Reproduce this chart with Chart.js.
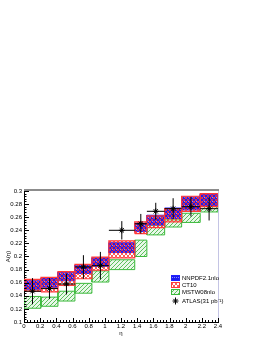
<!DOCTYPE html>
<html>
<head>
<meta charset="utf-8">
<script src="https://cdn.jsdelivr.net/npm/chart.js@4.4.1/dist/chart.umd.min.js"></script>
<style>
  html, body { margin: 0; padding: 0; background: #fff; }
  #chart { display: block; }
</style>
</head>
<body>
<canvas id="chart" width="262" height="339"></canvas>
<script>
// eta bins (ATLAS W charge asymmetry binning)
const binEdges = [0, 0.21, 0.42, 0.63, 0.84, 1.05, 1.37, 1.52, 1.74, 1.95, 2.18, 2.4];

// prediction bands, low / high edge per bin
const nnpdfLo = [0.150, 0.153, 0.163, 0.174, 0.185, 0.206, 0.238, 0.248, 0.258, 0.271, 0.278];
const nnpdfHi = [0.163, 0.167, 0.176, 0.187, 0.198, 0.221, 0.251, 0.263, 0.274, 0.291, 0.295];
const ct10Lo  = [0.147, 0.146, 0.156, 0.166, 0.179, 0.198, 0.235, 0.244, 0.253, 0.269, 0.276];
const ct10Hi  = [0.165, 0.168, 0.177, 0.188, 0.199, 0.224, 0.253, 0.262, 0.273, 0.292, 0.296];
const mstwLo  = [0.121, 0.124, 0.132, 0.144, 0.161, 0.180, 0.200, 0.233, 0.245, 0.252, 0.268];
const mstwHi  = [0.139, 0.138, 0.147, 0.159, 0.178, 0.195, 0.225, 0.248, 0.256, 0.266, 0.279];

// ATLAS data
const atlasEta = [0.105, 0.315, 0.525, 0.735, 0.945, 1.21, 1.445, 1.63, 1.845, 2.065, 2.29];
const atlasA   = [0.147, 0.151, 0.158, 0.184, 0.186, 0.240, 0.250, 0.269, 0.273, 0.276, 0.273];
const atlasErr = [0.020, 0.016, 0.016, 0.018, 0.021, 0.014, 0.015, 0.013, 0.016, 0.015, 0.018];

// axis ticks
const xTickValues = [0, 0.2, 0.4, 0.6, 0.8, 1, 1.2, 1.4, 1.6, 1.8, 2, 2.2, 2.4];
const xTickLabels = ['0', '0.2', '0.4', '0.6', '0.8', '1', '1.2', '1.4', '1.6', '1.8', '2', '2.2', '2.4'];
const yTickValues = [0.1, 0.12, 0.14, 0.16, 0.18, 0.2, 0.22, 0.24, 0.26, 0.28, 0.3];
const yTickLabels = ['0.1', '0.12', '0.14', '0.16', '0.18', '0.2', '0.22', '0.24', '0.26', '0.28', '0.3'];

const FONT = '"Liberation Sans", Arial, Helvetica, sans-serif';

// small hatch patterns, ROOT-ish
function makePattern(bg, ink, pixels) {
  const c = document.createElement('canvas');
  c.width = 4; c.height = 4;
  const g = c.getContext('2d');
  if (bg) { g.fillStyle = bg; g.fillRect(0, 0, 4, 4); }
  g.fillStyle = ink;
  pixels.forEach(p => g.fillRect(p[0], p[1], 1, 1));
  return g.createPattern(c, 'repeat');
}
const diagA = [[0, 0], [1, 1], [2, 2], [3, 3]];
const diagB = [[3, 0], [2, 1], [1, 2], [0, 3]];
const nnpdfFill = makePattern('#1c1cf0', '#8c8cff', [[0, 1], [2, 1]]);
const ct10Fill = makePattern(null, 'rgba(255,50,50,0.8)', diagA.concat(diagB));
const mstwFill = makePattern('#e8f7e8', '#5cc05c', diagB);

// one closed rectangle per bin, separated by gaps
function bandShape(lo, hi) {
  const pts = [];
  lo.forEach((v, i) => {
    const x0 = binEdges[i], x1 = binEdges[i + 1];
    pts.push({x: x0, y: v}, {x: x1, y: v}, {x: x1, y: hi[i]}, {x: x0, y: hi[i]}, {x: x0, y: v});
    pts.push({x: x0, y: null});
  });
  return pts;
}

function errorBars() {
  const pts = [];
  atlasA.forEach((a, i) => {
    pts.push({x: atlasEta[i], y: a - atlasErr[i]}, {x: atlasEta[i], y: a + atlasErr[i]}, {x: atlasEta[i], y: null});
    pts.push({x: binEdges[i], y: a}, {x: binEdges[i + 1], y: a}, {x: binEdges[i], y: null});
  });
  return pts;
}

// ROOT style inward ticks
const innerTicks = {
  id: 'innerTicks',
  afterDraw(chart) {
    const {ctx, chartArea: a, scales: {x, y}} = chart;
    ctx.save();
    ctx.strokeStyle = '#000';
    ctx.lineWidth = 1;
    ctx.beginPath();
    for (let v = 0.1; v <= 0.3001; v += 0.004) {
      const major = Math.abs(v * 50 - Math.round(v * 50)) < 1e-6;
      const py = Math.round(y.getPixelForValue(v)) + 0.5;
      ctx.moveTo(a.left, py);
      ctx.lineTo(a.left + (major ? 5 : 2.5), py);
    }
    for (let v = 0; v <= 2.4001; v += 0.04) {
      const major = Math.abs(v * 5 - Math.round(v * 5)) < 1e-6;
      const px = Math.round(x.getPixelForValue(v)) + 0.5;
      ctx.moveTo(px, a.bottom);
      ctx.lineTo(px, a.bottom - (major ? 4 : 2));
    }
    ctx.stroke();
    ctx.restore();
  }
};

// grey frame on top and right
const frame = {
  id: 'frame',
  beforeDatasetsDraw(chart) {
    const {ctx, chartArea: a} = chart;
    ctx.save();
    ctx.strokeStyle = '#8c8c8c';
    ctx.lineWidth = 2;
    ctx.beginPath();
    ctx.moveTo(a.left, a.top - 1);
    ctx.lineTo(a.right + 1, a.top - 1);
    ctx.stroke();
    ctx.strokeStyle = '#c4c4e4';
    ctx.lineWidth = 1;
    ctx.beginPath();
    ctx.moveTo(a.right + 0.5, a.top);
    ctx.lineTo(a.right + 0.5, a.bottom);
    ctx.stroke();
    ctx.restore();
  }
};

// legend box inside the pad
const rootLegend = {
  id: 'rootLegend',
  afterDraw(chart) {
    const ctx = chart.ctx;
    const bx = 171, top = 278, rowH = 7;
    ctx.save();
    ctx.font = '6px ' + FONT;
    ctx.textBaseline = 'middle';
    let row = 0;
    chart.data.datasets.forEach(ds => {
      if (!ds.legendText) return;
      const cy = top + row * rowH + (ds.legendMarker ? 2 : 0);
      if (ds.legendMarker) {
        ctx.strokeStyle = '#000';
        ctx.beginPath();
        ctx.moveTo(bx + 4.5, cy - 3.5);
        ctx.lineTo(bx + 4.5, cy + 3.5);
        ctx.stroke();
        Chart.helpers.drawPoint(ctx, {pointStyle: 'star', radius: 3, borderWidth: 1}, bx + 4.5, cy);
      } else {
        ctx.fillStyle = ds.backgroundColor;
        ctx.fillRect(bx, cy - 2.5, 8, 5);
        ctx.strokeStyle = ds.borderColor;
        ctx.lineWidth = 1;
        ctx.strokeRect(bx + 0.5, cy - 2.5, 8, 5);
      }
      ctx.fillStyle = '#000';
      ctx.fillText(ds.legendText, bx + 11, cy);
      row++;
    });
    ctx.restore();
  }
};

new Chart(document.getElementById('chart'), {
  type: 'line',
  data: {
    datasets: [
      {
        legendText: 'NNPDF2.1nlo',
        data: bandShape(nnpdfLo, nnpdfHi),
        borderColor: '#2020ff', borderWidth: 1, backgroundColor: nnpdfFill,
        fill: 'shape', pointRadius: 0, order: 3
      },
      {
        legendText: 'CT10',
        data: bandShape(ct10Lo, ct10Hi),
        borderColor: '#ff3a3a', borderWidth: 1.2, backgroundColor: ct10Fill,
        fill: 'shape', pointRadius: 0, order: 2
      },
      {
        legendText: 'MSTW08nlo',
        data: bandShape(mstwLo, mstwHi),
        borderColor: '#3cba3c', borderWidth: 1, backgroundColor: mstwFill,
        fill: 'shape', pointRadius: 0, order: 4
      },
      {
        data: errorBars(),
        borderColor: '#000', borderWidth: 1, fill: false, pointRadius: 0, order: 1
      },
      {
        legendText: 'ATLAS(31 pb⁻¹)', legendMarker: true,
        data: atlasEta.map((x, i) => ({x: x, y: atlasA[i]})),
        showLine: false, pointStyle: 'star', pointRadius: 3,
        borderColor: '#000', borderWidth: 1, order: 0
      }
    ]
  },
  options: {
    responsive: false,
    animation: false,
    events: [],
    layout: { padding: { top: 191, right: 44, left: 0, bottom: 0 } },
    plugins: { legend: { display: false }, tooltip: { enabled: false } },
    scales: {
      x: {
        type: 'linear', min: 0, max: 2.4,
        afterFit(s) { s.height = 17; },
        afterBuildTicks(s) { s.ticks = xTickValues.map(v => ({value: v})); },
        grid: { display: false, drawTicks: false },
        border: { color: '#000', width: 1 },
        ticks: {
          autoSkip: false, maxRotation: 0, padding: 1, color: '#000',
          font: { family: FONT, size: 6 },
          callback: (v, i) => xTickLabels[i]
        },
        title: { display: true, text: 'η', color: '#000', font: { family: FONT, size: 6 }, padding: { top: 0, bottom: 2 } }
      },
      y: {
        type: 'linear', min: 0.1, max: 0.3,
        afterFit(s) { s.width = 24; },
        afterBuildTicks(s) { s.ticks = yTickValues.map(v => ({value: v})); },
        grid: { display: false, drawTicks: false },
        border: { color: '#000', width: 1 },
        ticks: {
          autoSkip: false, padding: 2, color: '#000',
          font: { family: FONT, size: 6 },
          callback: (v, i) => yTickLabels[i]
        },
        title: { display: true, text: 'A(η)', color: '#000', font: { family: FONT, size: 6 }, padding: { top: 5, bottom: 0 } }
      }
    }
  },
  plugins: [frame, innerTicks, rootLegend]
});
</script>
</body>
</html>
